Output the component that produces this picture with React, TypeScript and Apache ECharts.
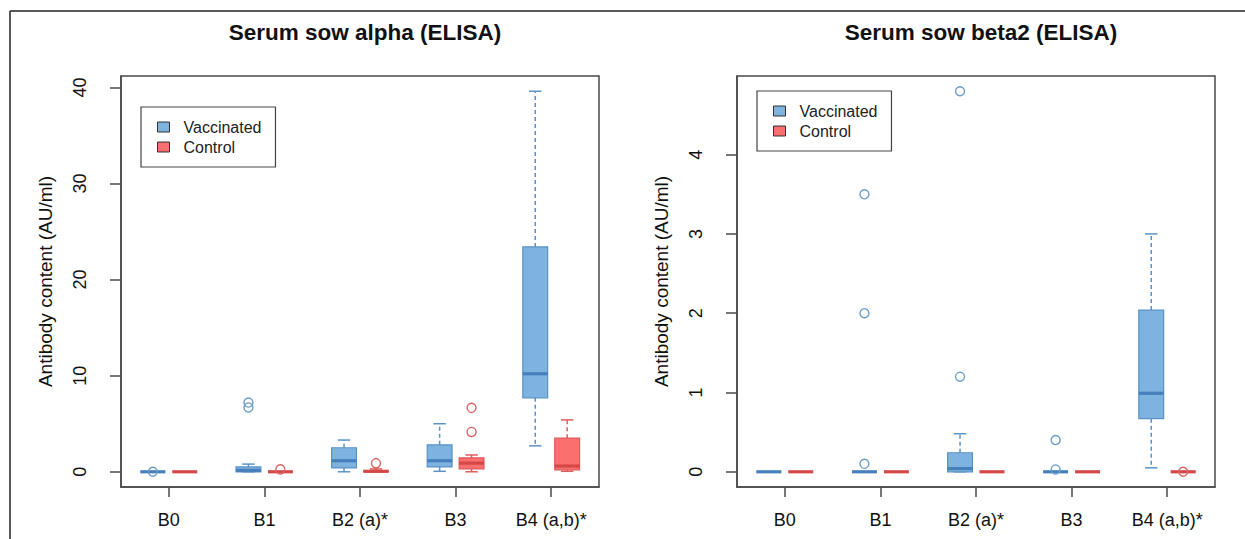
import React, { useEffect, useRef } from 'react';
import * as echarts from 'echarts';

const categories = ['B0', 'B1', 'B2 (a)*', 'B3', 'B4 (a,b)*'];
const seriesNames = ['Vaccinated', 'Control'];
const titles = ['Serum sow alpha (ELISA)', 'Serum sow beta2 (ELISA)'];
const yAxisTitle = 'Antibody content (AU/ml)';

// each row: [low whisker, Q1, median, Q3, high whisker]
const alphaVaccinated = [
  [0, 0, 0, 0, 0],
  [0, 0, 0.15, 0.5, 0.8],
  [0, 0.4, 1.15, 2.5, 3.3],
  [0.05, 0.5, 1.15, 2.8, 5.0],
  [2.7, 7.7, 10.2, 23.4, 39.6],
];
const alphaControl = [
  [0, 0, 0, 0, 0],
  [0, 0, 0, 0, 0],
  [0, 0, 0.05, 0.1, 0.3],
  [0, 0.3, 0.9, 1.45, 1.75],
  [0.05, 0.2, 0.6, 3.5, 5.4],
];
// outliers: [category index, value]
const alphaVaccinatedOutliers = [[0, 0], [1, 7.2], [1, 6.7]];
const alphaControlOutliers = [[1, 0.25], [2, 0.9], [3, 6.65], [3, 4.15]];

const betaVaccinated = [
  [0, 0, 0, 0, 0],
  [0, 0, 0, 0, 0],
  [0, 0, 0.04, 0.24, 0.48],
  [0, 0, 0, 0, 0],
  [0.05, 0.67, 0.99, 2.04, 3.0],
];
const betaControl = [
  [0, 0, 0, 0, 0],
  [0, 0, 0, 0, 0],
  [0, 0, 0, 0, 0],
  [0, 0, 0, 0, 0],
  [0, 0, 0, 0, 0],
];
const betaVaccinatedOutliers = [[1, 3.5], [1, 2.0], [1, 0.1], [2, 4.8], [2, 1.2], [3, 0.4], [3, 0.03]];
const betaControlOutliers = [[4, 0]];

const alphaTicks = [0, 10, 20, 30, 40];
const betaTicks = [0, 1, 2, 3, 4];

const FONT = '"Liberation Sans", Arial, Helvetica, sans-serif';
const BLUE = { fill: '#7FB3DF', border: '#5A92C7', median: '#4580BC', out: '#6C9DC9' };
const RED = { fill: '#FB6F6F', border: '#E05A5A', median: '#D44848', out: '#D86464' };
const FRAME = '#4a4a4a';

const rangeOf = (boxes: number[][], outs: number[][]) => {
  const vals: number[] = [];
  boxes.forEach((r) => vals.push(...r));
  outs.forEach((o) => vals.push(o[1]));
  const lo = Math.min(...vals);
  const hi = Math.max(...vals);
  const pad = (hi - lo) * 0.04;
  return [lo - pad, hi + pad];
};

const makeBoxRenderer = (side: number, c: typeof BLUE) => (_params: any, api: any) => {
  const cat = api.value(0);
  const low = api.value(1);
  const q1 = api.value(2);
  const med = api.value(3);
  const q3 = api.value(4);
  const high = api.value(5);
  const band = api.size([1, 0])[0];
  const cx = api.coord([cat, 0])[0] + side * band * 0.167;
  const hw = band * 0.13;
  const sw = hw * 0.5;
  const Y = (v: number) => api.coord([cat, v])[1];
  const children: any[] = [];
  if (high > q3) {
    children.push({ type: 'line', shape: { x1: cx, y1: Y(q3), x2: cx, y2: Y(high) }, style: { stroke: c.border, lineWidth: 1.5, lineDash: [4, 3] } });
  }
  if (low < q1) {
    children.push({ type: 'line', shape: { x1: cx, y1: Y(q1), x2: cx, y2: Y(low) }, style: { stroke: c.border, lineWidth: 1.5, lineDash: [4, 3] } });
  }
  children.push({ type: 'line', shape: { x1: cx - sw, y1: Y(high), x2: cx + sw, y2: Y(high) }, style: { stroke: c.border, lineWidth: 1.5 } });
  children.push({ type: 'line', shape: { x1: cx - sw, y1: Y(low), x2: cx + sw, y2: Y(low) }, style: { stroke: c.border, lineWidth: 1.5 } });
  children.push({ type: 'rect', shape: { x: cx - hw, y: Y(q3), width: 2 * hw, height: Y(q1) - Y(q3) }, style: { fill: c.fill, stroke: c.border, lineWidth: 1.2 } });
  children.push({ type: 'line', shape: { x1: cx - hw, y1: Y(med), x2: cx + hw, y2: Y(med) }, style: { stroke: c.median, lineWidth: 3.2 } });
  return { type: 'group', children };
};

const makeOutlierRenderer = (side: number, c: typeof BLUE) => (_params: any, api: any) => {
  const cat = api.value(0);
  const band = api.size([1, 0])[0];
  const p = api.coord([cat, api.value(1)]);
  return {
    type: 'circle',
    shape: { cx: p[0] + side * band * 0.167, cy: p[1], r: 4.5 },
    style: { fill: 'none', stroke: c.out, lineWidth: 1.4 },
    z2: 10,
  };
};

const panels = [
  { boxes: [alphaVaccinated, alphaControl], outs: [alphaVaccinatedOutliers, alphaControlOutliers], ticks: alphaTicks },
  { boxes: [betaVaccinated, betaControl], outs: [betaVaccinatedOutliers, betaControlOutliers], ticks: betaTicks },
];

const GRID_LEFT = [121, 737];
const GRID_TOP = 76;
const GRID_W = 478;
const GRID_H = 411;
const LEGEND_POS = [[141, 107], [757, 91]];

export default function App() {
  const ref = useRef<HTMLDivElement>(null);
  useEffect(() => {
    if (!ref.current) return;
    const chart = echarts.init(ref.current, undefined, { renderer: 'svg' });
    const grid: any[] = [];
    const xAxis: any[] = [];
    const yAxis: any[] = [];
    const series: any[] = [];
    const title: any[] = [];
    const legend: any[] = [];
    panels.forEach((p, k) => {
      const [ymin, ymax] = rangeOf([...p.boxes[0], ...p.boxes[1]], [...p.outs[0], ...p.outs[1]]);
      grid.push({ left: GRID_LEFT[k], top: GRID_TOP, width: GRID_W, height: GRID_H, show: true, borderColor: FRAME, borderWidth: 1.5, backgroundColor: 'transparent' });
      xAxis.push({
        type: 'category', gridIndex: k, data: categories, position: 'bottom',
        axisLine: { show: true, onZero: false, lineStyle: { color: FRAME, width: 1.5 } },
        axisTick: { show: true, alignWithLabel: true, inside: false, length: 10, lineStyle: { color: FRAME, width: 1.5 } },
        axisLabel: { margin: 24, fontSize: 18, color: '#111', fontFamily: FONT },
        splitLine: { show: false },
      });
      yAxis.push({
        type: 'value', gridIndex: k, min: ymin, max: ymax, position: 'left',
        name: yAxisTitle, nameLocation: 'middle', nameGap: 66, nameRotate: 90,
        nameTextStyle: { fontSize: 19, color: '#111', fontFamily: FONT },
        axisLine: { show: true, onZero: false, lineStyle: { color: FRAME, width: 1.5 } },
        axisTick: { show: true, inside: false, length: 11, customValues: p.ticks, lineStyle: { color: FRAME, width: 1.5 } },
        axisLabel: { rotate: 90, margin: 32, fontSize: 18, color: '#111', fontFamily: FONT, customValues: p.ticks },
        splitLine: { show: false },
      });
      title.push({
        text: titles[k], left: GRID_LEFT[k] + GRID_W / 2, top: 16, textAlign: 'center',
        textStyle: { fontSize: 22.5, fontWeight: 'bold', color: '#111', fontFamily: FONT },
      });
      legend.push({
        data: seriesNames, orient: 'vertical', left: LEGEND_POS[k][0], top: LEGEND_POS[k][1],
        padding: [12, 14, 12, 16], itemWidth: 12, itemHeight: 10, itemGap: 4, icon: 'rect',
        borderColor: '#444', borderWidth: 1.2, selectedMode: false,
        itemStyle: { borderColor: '#333', borderWidth: 1 },
        textStyle: { fontSize: 16, color: '#222', fontFamily: FONT, lineHeight: 16, padding: [0, 0, 0, 9] },
      });
      [BLUE, RED].forEach((c, s) => {
        const side = s === 0 ? -1 : 1;
        series.push({
          type: 'custom', name: seriesNames[s], xAxisIndex: k, yAxisIndex: k,
          data: p.boxes[s].map((r, i) => [i, ...r]),
          encode: { x: 0, y: [1, 2, 3, 4, 5] },
          itemStyle: { color: c.fill },
          renderItem: makeBoxRenderer(side, c), clip: false, z: 2,
        });
        series.push({
          type: 'custom', name: seriesNames[s] + ' outliers', xAxisIndex: k, yAxisIndex: k,
          data: p.outs[s],
          encode: { x: 0, y: 1 },
          itemStyle: { color: c.out },
          renderItem: makeOutlierRenderer(side, c), clip: false, z: 3,
        });
      });
    });
    chart.setOption({
      animation: false,
      backgroundColor: '#fff',
      title, legend, grid, xAxis, yAxis, series,
      graphic: [
        { type: 'line', shape: { x1: 10, y1: 11, x2: 1245, y2: 11 }, style: { stroke: '#222', lineWidth: 1.5 } },
        { type: 'line', shape: { x1: 10, y1: 11, x2: 10, y2: 539 }, style: { stroke: '#222', lineWidth: 1.5 } },
      ],
    });
    return () => chart.dispose();
  }, []);
  return <div ref={ref} style={{ position: 'fixed', left: 0, top: 0, width: 1245, height: 539 }} />;
}
